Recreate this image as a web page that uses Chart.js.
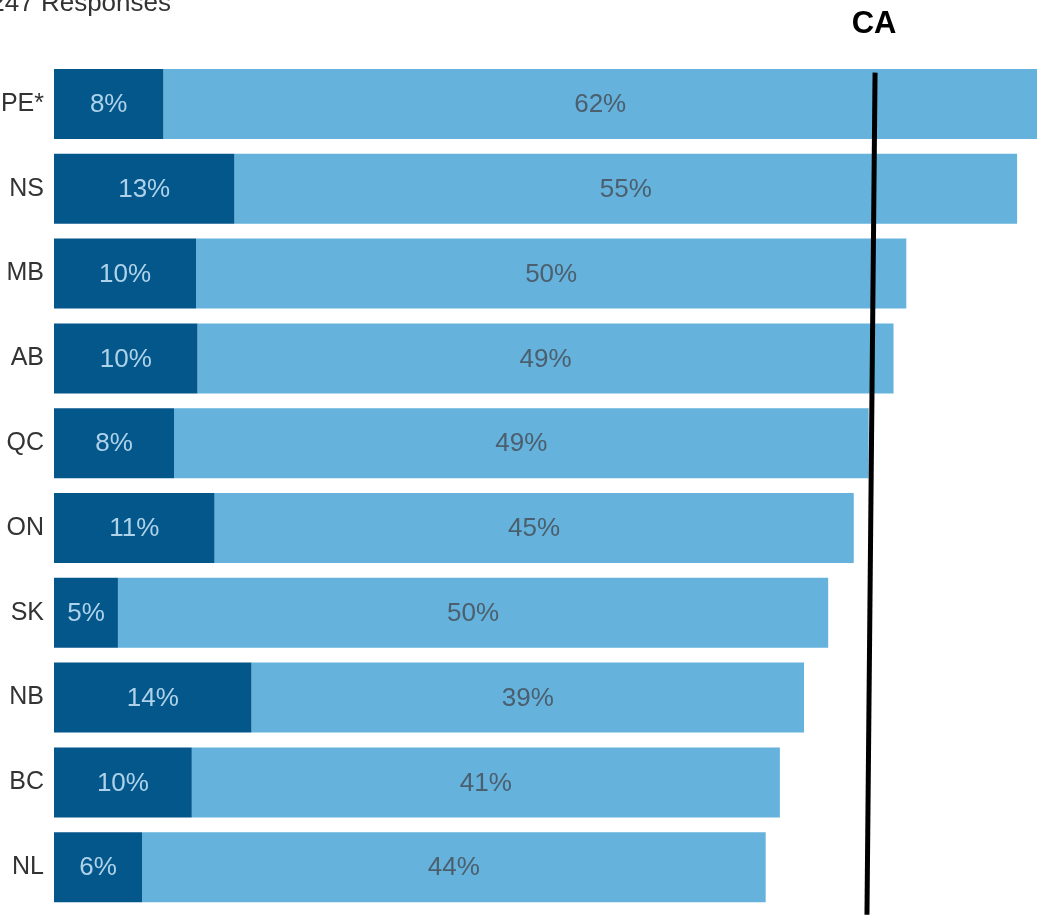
<!DOCTYPE html>
<html>
<head>
<meta charset="utf-8">
<script src="https://cdn.jsdelivr.net/npm/chart.js@4"></script>
<style>
  html, body { margin: 0; padding: 0; background: #ffffff; overflow: hidden; }
  canvas { display: block; }
</style>
</head>
<body>
<canvas id="c" width="1037" height="915" style="width:1037px;height:915px"></canvas>
<script>
// ---- data ----
const categories = ["PE*", "NS", "MB", "AB", "QC", "ON", "SK", "NB", "BC", "NL"];
const darkValues  = [7.7, 12.7, 10.0, 10.1, 8.45, 11.3, 4.5, 13.9, 9.7, 6.2];
const lightValues = [61.5, 55.1, 50.0, 49.0, 48.9, 45.0, 50.0, 38.9, 41.4, 43.9];
const caLineX = [57.8, 57.23];   // Canada average line (top, bottom)
const caLineY = [0.13, 10.06];   // position along the category band (0 = top, 10 = bottom)
const caLabel = "CA";
const responsesText = "247 Responses";
const xMax = 69.2;

const FONT = "'Liberation Sans', Arial, sans-serif";

const labelPlugin = {
  id: "segLabels",
  afterDatasetsDraw(chart) {
    const ctx = chart.ctx;
    ctx.save();
    ctx.font = "26px " + FONT;
    ctx.textAlign = "center";
    ctx.textBaseline = "middle";
    [0, 1].forEach(di => {
      const meta = chart.getDatasetMeta(di);
      const vals = chart.data.datasets[di].data;
      ctx.fillStyle = di === 0 ? "#aed2e9" : "#4b5f6e";
      meta.data.forEach((bar, i) => {
        const left = Math.min(bar.x, bar.base);
        const right = Math.min(Math.max(bar.x, bar.base), chart.chartArea.right);
        const cx = (left + right) / 2;
        ctx.fillText(Math.round(vals[i]) + "%", cx, bar.y + 1);
      });
    });
    // CA label above the line top
    const lineMeta = chart.getDatasetMeta(2);
    const p0 = lineMeta.data[0];
    ctx.font = "bold 31px " + FONT;
    ctx.fillStyle = "#000000";
    ctx.textBaseline = "alphabetic";
    ctx.fillText(caLabel, p0.x - 1, p0.y - 40);
    // responses note (partly cut at the left edge)
    ctx.font = "26px " + FONT;
    ctx.fillStyle = "#333333";
    ctx.textAlign = "right";
    ctx.fillText(responsesText, 171, 11);
    ctx.restore();
  }
};

new Chart(document.getElementById("c"), {
  type: "bar",
  data: {
    labels: categories,
    datasets: [
      {
        data: darkValues,
        backgroundColor: "#03578a",
        borderWidth: 0,
        barPercentage: 1,
        categoryPercentage: 0.825,
        grouped: false,
        stack: "main",
        order: 2
      },
      {
        data: lightValues,
        backgroundColor: "#65b2dc",
        borderWidth: 0,
        barPercentage: 1,
        categoryPercentage: 0.825,
        grouped: false,
        stack: "main",
        order: 2
      },
      {
        type: "scatter",
        data: caLineX.map((x, i) => ({ x: x, y: caLineY[i] })),
        xAxisID: "x",
        yAxisID: "y2",
        showLine: true,
        borderColor: "#000000",
        borderWidth: 5,
        pointRadius: 0,
        pointHoverRadius: 0,
        clip: false,
        order: 1
      }
    ]
  },
  options: {
    responsive: false,
    animation: false,
    devicePixelRatio: 1,
    datasets: { bar: { indexAxis: "y" } },
    layout: { padding: { top: 61.6, bottom: 5.4, left: 0, right: 0 } },
    plugins: {
      legend: { display: false },
      tooltip: { enabled: false },
      title: { display: false }
    },
    scales: {
      x: {
        type: "linear",
        axis: "x",
        stacked: true,
        min: 0,
        max: xMax,
        display: false
      },
      y: {
        type: "category",
        axis: "y",
        offset: true,
        stacked: true,
        grid: { display: false, drawTicks: false },
        border: { display: false },
        ticks: {
          padding: 10,
          color: "#333333",
          font: { family: FONT, size: 25 }
        },
        afterFit(scale) {
          scale.width = 54;
          scale.paddingTop = 0;
          scale.paddingBottom = 0;
        }
      },
      y2: {
        type: "linear",
        axis: "y",
        display: false,
        offset: false,
        min: 0,
        max: 10,
        reverse: true
      }
    }
  },
  plugins: [labelPlugin]
});
</script>
</body>
</html>
